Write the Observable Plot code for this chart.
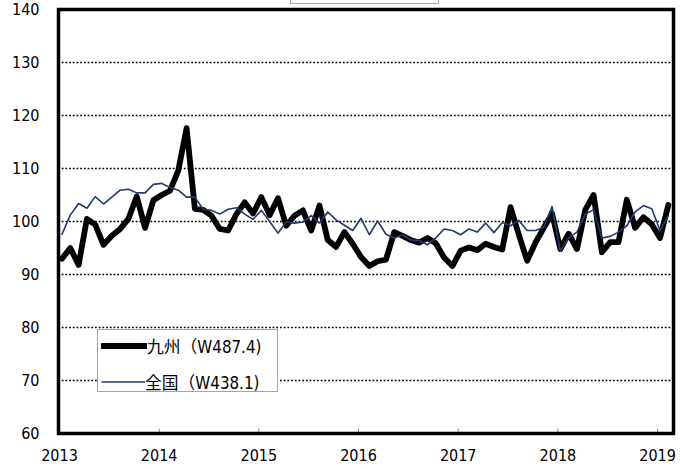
<!DOCTYPE html>
<html><head><meta charset="utf-8">
<script src="https://cdn.jsdelivr.net/npm/d3@7"></script>
<script src="https://cdn.jsdelivr.net/npm/@observablehq/plot@0.6"></script>
<style>
body{margin:0;background:#fff;}
#wrap{position:relative;width:690px;height:470px;overflow:hidden;background:#fff;}
#topbox{position:absolute;left:290px;top:-10px;width:147px;height:12px;border:1px solid #a6a6a6;background:#fff;}
#legend{position:absolute;left:97px;top:329px;width:179px;height:61px;border:1px solid #a6a6a6;background:#fff;
  font-family:'DejaVu Sans Condensed','Noto Sans CJK JP',sans-serif;font-stretch:condensed;font-size:16.8px;color:#000;}
.item{position:absolute;left:3px;display:flex;align-items:center;height:20px;white-space:nowrap;}
.item svg{display:block;}
</style></head><body><div id="wrap"><div id="topbox"></div></div>
<script>
// monthly categories Jan 2013 - Feb 2019
const months = d3.utcMonths(new Date(Date.UTC(2013,0,1)), new Date(Date.UTC(2019,2,1)));
const kyushu = [93.0,95.0,91.8,100.5,99.4,95.6,97.3,98.6,100.5,104.7,98.8,104.0,
  105.0,105.8,109.6,117.6,102.4,102.2,101.1,98.6,98.3,101.4,103.6,101.5,
  104.6,101.2,104.4,99.2,101.1,102.1,98.3,103.0,96.5,95.2,98.0,95.8,
  93.3,91.6,92.5,92.8,98.0,97.3,96.5,96.0,96.9,95.9,93.2,91.6,
  94.5,95.1,94.6,95.8,95.2,94.7,102.7,97.5,92.6,96.0,98.8,101.5,
  94.8,97.7,94.8,102.2,105.0,94.2,96.1,96.1,104.1,98.8,100.8,99.5,
  96.9,103.1];
const zenkoku = [97.6,101.2,103.4,102.5,104.7,103.3,104.6,105.9,106.1,105.4,105.4,107.0,
  107.2,106.4,105.9,104.6,104.6,102.3,102.1,101.4,102.3,102.6,101.4,100.4,
  102.1,100.0,97.8,99.9,99.7,99.9,101.1,99.7,101.8,100.3,99.3,98.3,
  100.6,97.5,100.1,97.6,96.9,97.5,96.5,96.4,95.6,96.9,98.6,98.3,
  97.5,98.6,98.0,99.7,97.9,99.8,99.2,100.2,98.3,98.3,98.9,102.8,
  94.4,96.9,98.0,101.4,102.2,96.9,97.2,98.0,99.2,101.8,103.0,102.4,
  98.3,101.1];
const seriesNames = ["九州（W487.4)", "全国（W438.1)"];
const seriesColors = ["#000000", "#1f3b6e"];
const yTicks = [60,70,80,90,100,110,120,130,140];
const xTicks = [2013,2014,2015,2016,2017,2018,2019];

const pos = d => d.getUTCFullYear() + (d.getUTCMonth() + 0.3) / 12;
const rows = (vals) => months.map((m, i) => ({x: pos(m), v: vals[i]}));

const chart = Plot.plot({
  width: 690, height: 470,
  marginTop: 9, marginBottom: 37, marginLeft: 58, marginRight: 17,
  x: {domain: [2012.99, 2019.16], ticks: xTicks, tickFormat: "d", tickSize: 0, tickPadding: 16, label: null},
  y: {domain: [60, 140], ticks: yTicks, tickSize: 0, tickPadding: 19, label: null},
  style: {fontFamily: "'DejaVu Sans Condensed', 'DejaVu Sans', sans-serif", fontStretch: "condensed", fontSize: "16px", color: "#000", background: "transparent"},
  marks: [
    Plot.ruleY(yTicks.filter(v => v > 60 && v < 140), {stroke: "#000", strokeWidth: 1.6, strokeDasharray: "1.8,1.9"}),
    Plot.ruleX(xTicks.slice(1), {y1: 60, y2: 60.8, stroke: "#808080", strokeWidth: 1}),
    Plot.line(rows(kyushu), {x: "x", y: "v", stroke: seriesColors[0], strokeWidth: 5.8}),
    Plot.line(rows(zenkoku), {x: "x", y: "v", stroke: seriesColors[1], strokeWidth: 1.6}),
    Plot.frame({stroke: "#000", strokeWidth: 3.5})
  ]
});
chart.style.position = "absolute";
chart.style.left = "0px";
chart.style.top = "0px";
const wrap = document.getElementById("wrap");
wrap.insertBefore(chart, wrap.firstChild);

// legend
const legend = document.createElement("div");
legend.id = "legend";
const items = [
  {name: seriesNames[0], color: seriesColors[0], w: 5.8, len: 46, top: 6},
  {name: seriesNames[1], color: seriesColors[1], w: 1.6, len: 44, top: 42}
];
items.forEach(it => {
  const div = document.createElement("div");
  div.className = "item";
  div.style.top = it.top + "px";
  const svg = d3.create("svg").attr("width", it.len).attr("height", 20);
  svg.append("line").attr("x1", 1).attr("x2", it.len).attr("y1", 10).attr("y2", 10)
    .attr("stroke", it.color).attr("stroke-width", it.w).attr("stroke-linecap", "round");
  div.appendChild(svg.node());
  const span = document.createElement("span");
  span.textContent = it.name;
  div.appendChild(span);
  legend.appendChild(div);
});
wrap.appendChild(legend);
</script>
</body></html>
